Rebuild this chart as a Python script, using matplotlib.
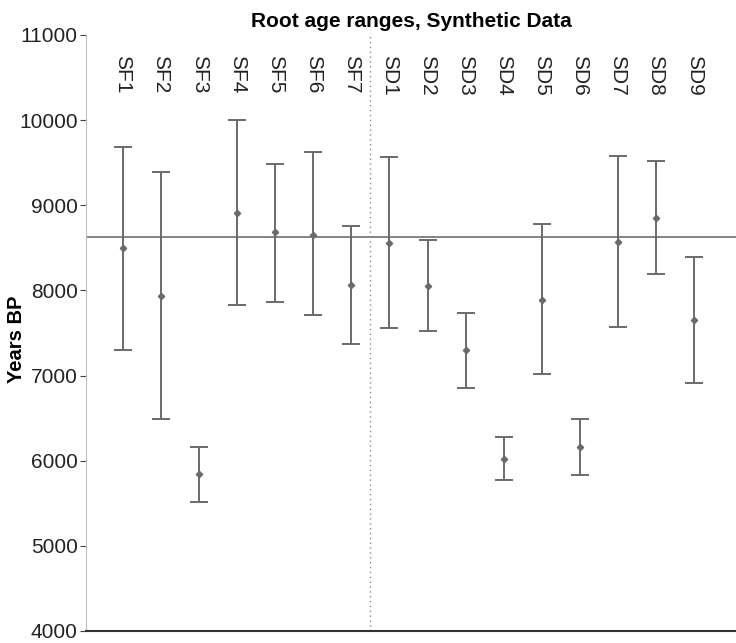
import matplotlib

matplotlib.use("Agg")
import matplotlib.pyplot as plt
import numpy as np


# (years BP)
LABELS = ["SF1", "SF2", "SF3", "SF4", "SF5", "SF6", "SF7",
          "SD1", "SD2", "SD3", "SD4", "SD5", "SD6", "SD7", "SD8", "SD9"]
MEANS = [8495, 7931, 5844, 8913, 8686, 8655, 8064,
         8557, 8048, 7300, 6020, 7884, 6157, 8569, 8855, 7653]
UPPER = [9688, 9387, 6157, 10000, 9489, 9626, 8761,
         9571, 8589, 7739, 6275, 8776, 6486, 9583, 9520, 8389]
LOWER = [7304, 6486, 5515, 7825, 7868, 7708, 7375,
         7559, 7527, 6858, 5770, 7022, 5832, 7574, 8197, 6917]
TRUE_AGE = 8630
N_SF = 7

GRAY = "#6a6a6a"
FONT = ["Liberation Sans", "DejaVu Sans"]


def main() -> None:
    plt.rcParams.update({"font.family": FONT})
    fig = plt.figure(figsize=(7.36, 6.43), dpi=100)
    ax = fig.add_axes([0.1168, 0.0187, 0.8832, 0.9269])

    x = np.arange(1, len(LABELS) + 1)
    means = np.array(MEANS)
    yerr = np.vstack([means - np.array(LOWER), np.array(UPPER) - means])

    ax.axhline(TRUE_AGE, color="#707070", lw=1.2, zorder=1)
    ax.axvline(N_SF + 0.5, color="#8a8a8a", lw=1.0, ls=(0, (1, 2.5)), zorder=1)
    ax.errorbar(x, means, yerr=yerr, fmt="D", ms=3.2, color=GRAY, ecolor=GRAY,
                elinewidth=1.4, capsize=6.5, capthick=1.4, zorder=3)

    for xi, lab in zip(x, LABELS):
        ax.text(xi, 10770, lab, rotation=-90, ha="center", va="top",
                fontsize=15, color="#222222")

    ax.set_xlim(0.03, 17.1)
    ax.set_ylim(4000, 11000)
    ax.set_yticks(np.arange(4000, 11001, 1000))
    ax.set_xticks([])
    ax.tick_params(axis="y", labelsize=15, length=4, width=0.8, color="#444444",
                   labelcolor="#222222", pad=2)
    ax.set_ylabel("Years BP", fontsize=14.5, fontweight="bold")
    ax.yaxis.set_label_coords(-0.092, 0.49)
    ax.set_title("Root age ranges, Synthetic Data", fontsize=15,
                 fontweight="bold", pad=6)

    for side in ("top", "right"):
        ax.spines[side].set_visible(False)
    ax.spines["left"].set_color("#c0c0c0")
    ax.spines["left"].set_linewidth(0.8)
    ax.spines["bottom"].set_color("#333333")
    ax.spines["bottom"].set_linewidth(1.5)

    fig.savefig("out.png", dpi=100)
    plt.close(fig)


if __name__ == "__main__":
    main()
